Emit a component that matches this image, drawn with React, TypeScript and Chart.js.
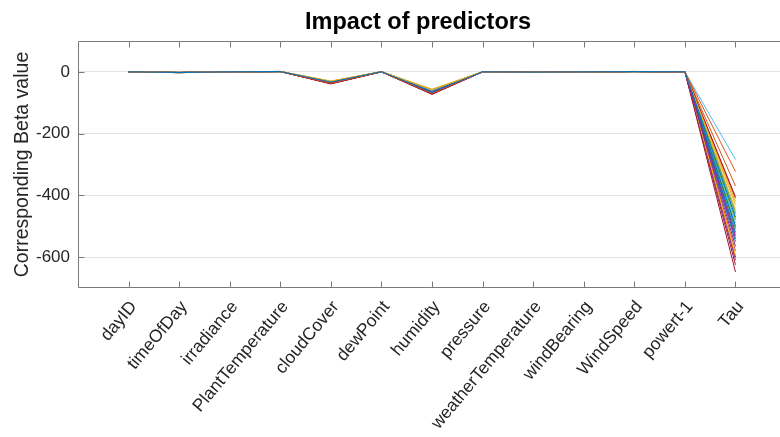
import React, { useEffect, useRef } from "react";
import { Chart, registerables } from "chart.js";
Chart.register(...registerables);

const FONT = '"Liberation Sans", Arial, Helvetica, sans-serif';

const categories = [
  "dayID", "timeOfDay", "irradiance", "PlantTemperature", "cloudCover", "dewPoint",
  "humidity", "pressure", "weatherTemperature", "windBearing", "WindSpeed", "powert-1", "Tau",
];
const yTicks = [-600, -400, -200, 0];
const palette = ["#0072BD", "#D95319", "#EDB120", "#7E2F8E", "#77AC30", "#4DBEEE", "#A2142F"];

// one value per series (28 series) for each predictor
const dayID = [0.4, 0.2, 0.5, 0.1, 0.3, 0.6, 0.2, 0.4, 0.1, 0.3, 0.5, 0.2, 0.4, 0.1, 0.3, 0.2, 0.5, 0.1, 0.4, 0.3, 0.2, 0.6, 0.1, 0.3, 0.4, 0.2, 0.5, 0.3];
const timeOfDay = [-2.1, -1.8, -2.4, -2.0, -1.6, -2.2, -2.5, -1.9, -2.3, -1.7, -2.0, -2.6, -2.2, -1.8, -2.1, -2.4, -1.9, -2.0, -2.3, -1.7, -2.5, -2.1, -1.8, -2.2, -2.0, -2.4, -1.9, -2.3];
const irradiance = [0.3, 0.1, 0.4, 0.2, 0.5, 0.1, 0.3, 0.2, 0.4, 0.1, 0.3, 0.5, 0.2, 0.4, 0.1, 0.3, 0.2, 0.4, 0.1, 0.5, 0.3, 0.2, 0.4, 0.1, 0.3, 0.2, 0.4, 0.1];
const plantTemperature = [1.2, 0.8, 1.5, 1.0, 0.6, 1.3, 1.1, 0.9, 1.4, 0.7, 1.2, 1.0, 0.8, 1.3, 1.1, 0.9, 1.5, 0.7, 1.2, 1.0, 0.8, 1.4, 1.1, 0.9, 1.3, 0.6, 1.0, 1.2];
const cloudCover = [-33, -36, -30, -35, -31, -32, -38, -34, -37, -31, -35, -33, -32, -39, -34, -36, -30, -37, -33, -32, -38, -35, -36, -31, -34, -33, -32, -37];
const dewPoint = [0.6, 0.3, 0.8, 0.4, 0.9, 0.5, 0.2, 0.7, 0.4, 0.6, 0.3, 0.8, 0.5, 0.2, 0.7, 0.4, 0.6, 0.3, 0.9, 0.5, 0.2, 0.6, 0.4, 0.8, 0.5, 0.3, 0.7, 0.4];
const humidity = [-66, -70, -57, -64, -58, -61, -72, -67, -69, -60, -63, -62, -64, -73, -68, -70, -56, -65, -62, -61, -71, -68, -69, -59, -64, -63, -60, -70];
const pressure = [0.2, 0.4, 0.1, 0.3, 0.5, 0.2, 0.4, 0.1, 0.3, 0.2, 0.5, 0.1, 0.4, 0.2, 0.3, 0.1, 0.4, 0.2, 0.5, 0.3, 0.1, 0.4, 0.2, 0.3, 0.1, 0.5, 0.2, 0.4];
const weatherTemperature = [-0.8, -0.5, -1.0, -0.6, -0.4, -0.9, -0.7, -0.5, -0.8, -0.6, -1.0, -0.4, -0.7, -0.9, -0.5, -0.8, -0.6, -0.7, -0.4, -0.9, -0.6, -0.8, -0.5, -1.0, -0.7, -0.6, -0.8, -0.5];
const windBearing = [0.1, 0.2, 0.0, 0.3, 0.1, 0.2, 0.0, 0.1, 0.3, 0.2, 0.1, 0.0, 0.2, 0.1, 0.3, 0.0, 0.2, 0.1, 0.2, 0.0, 0.1, 0.3, 0.2, 0.1, 0.0, 0.2, 0.1, 0.3];
const windSpeed = [1.1, 0.9, 1.3, 1.0, 0.8, 1.2, 1.4, 1.0, 0.9, 1.1, 1.3, 0.8, 1.2, 1.0, 0.9, 1.1, 1.4, 1.0, 0.8, 1.2, 1.1, 0.9, 1.3, 1.0, 1.2, 0.8, 1.1, 1.0];
const powertMinus1 = [0.3, 0.2, 0.4, 0.1, 0.3, 0.2, 0.4, 0.3, 0.1, 0.2, 0.4, 0.3, 0.2, 0.1, 0.3, 0.4, 0.2, 0.3, 0.1, 0.2, 0.4, 0.3, 0.2, 0.1, 0.3, 0.2, 0.4, 0.3];
const tau = [-470, -323, -430, -540, -455, -284, -405, -500, -370, -445, -565, -480, -490, -648, -520, -410, -595, -610, -510, -460, -625, -550, -580, -420, -530, -505, -475, -600];

const columns = [
  dayID, timeOfDay, irradiance, plantTemperature, cloudCover, dewPoint, humidity,
  pressure, weatherTemperature, windBearing, windSpeed, powertMinus1, tau,
];

const framePlugin = {
  id: "matlabFrame",
  afterDraw(chart: any) {
    const { ctx, chartArea, scales } = chart;
    const { left, right, top, bottom } = chartArea;
    const x = scales.x;
    const y = scales.y;
    const L = Math.round(left) + 0.5;
    const T = Math.round(top) + 0.5;
    const B = Math.round(bottom) - 0.5;
    ctx.save();
    ctx.strokeStyle = "#7a7a7a";
    ctx.lineWidth = 1;
    ctx.beginPath();
    ctx.moveTo(L, T);
    ctx.lineTo(right, T);
    ctx.moveTo(L, T);
    ctx.lineTo(L, B);
    ctx.lineTo(right, B);
    categories.forEach((_, i) => {
      const px = Math.round(x.getPixelForValue(i + 1)) + 0.5;
      ctx.moveTo(px, B);
      ctx.lineTo(px, B - 6);
      ctx.moveTo(px, T);
      ctx.lineTo(px, T + 6);
    });
    yTicks.forEach((v) => {
      const py = Math.round(y.getPixelForValue(v)) + 0.5;
      ctx.moveTo(L, py);
      ctx.lineTo(L + 6, py);
    });
    ctx.stroke();
    ctx.fillStyle = "#000000";
    ctx.font = `bold 23.5px ${FONT}`;
    ctx.textAlign = "center";
    ctx.textBaseline = "alphabetic";
    ctx.fillText("Impact of predictors", 418, 29);
    ctx.restore();
  },
};

export default function App() {
  const ref = useRef<HTMLCanvasElement | null>(null);

  useEffect(() => {
    if (!ref.current) return;
    Chart.defaults.font.family = FONT;
    const datasets = tau.map((_, s) => ({
      data: columns.map((col, i) => ({ x: i + 1, y: col[s] })),
      borderColor: palette[s % palette.length],
      backgroundColor: palette[s % palette.length],
      borderWidth: 1,
      pointRadius: 0,
      tension: 0,
      fill: false,
    }));
    const chart = new Chart(ref.current, {
      type: "line",
      data: { datasets },
      options: {
        animation: false,
        responsive: false,
        devicePixelRatio: 1,
        layout: { padding: { top: 41, left: 0, right: 0, bottom: 0 } },
        plugins: {
          legend: { display: false },
          title: { display: false },
          tooltip: { enabled: false },
        },
        scales: {
          x: {
            type: "linear",
            min: 0,
            max: 13.88,
            afterBuildTicks: (s: any) => {
              s.ticks = categories.map((_, i) => ({ value: i + 1 }));
            },
            afterFit: (s: any) => {
              s.height = 149;
            },
            ticks: {
              autoSkip: false,
              minRotation: 50,
              maxRotation: 50,
              padding: 1,
              labelOffset: 5,
              color: "#262626",
              font: { size: 17.5, family: FONT },
              callback: (v: any) => categories[Math.round(v) - 1] ?? "",
            },
            grid: { display: false },
            border: { display: false },
          },
          y: {
            type: "linear",
            min: -700,
            max: 100,
            afterBuildTicks: (s: any) => {
              s.ticks = yTicks.map((v) => ({ value: v }));
            },
            afterFit: (s: any) => {
              s.width = 78;
            },
            ticks: {
              padding: 8,
              color: "#262626",
              font: { size: 17, family: FONT },
              callback: (v: any) => String(v),
            },
            grid: { color: "#e3e3e3", drawTicks: false, lineWidth: 1 },
            border: { display: false },
            title: {
              display: true,
              text: "Corresponding Beta value",
              color: "#262626",
              font: { size: 19.5, family: FONT },
              padding: { top: 11, bottom: 0 },
            },
          },
        },
      },
      plugins: [framePlugin],
    });
    return () => chart.destroy();
  }, []);

  return (
    <div style={{ position: "absolute", left: 0, top: 0, width: 780, height: 437, background: "#fff" }}>
      <canvas ref={ref} width={780} height={437} style={{ width: 780, height: 437, display: "block" }} />
    </div>
  );
}
